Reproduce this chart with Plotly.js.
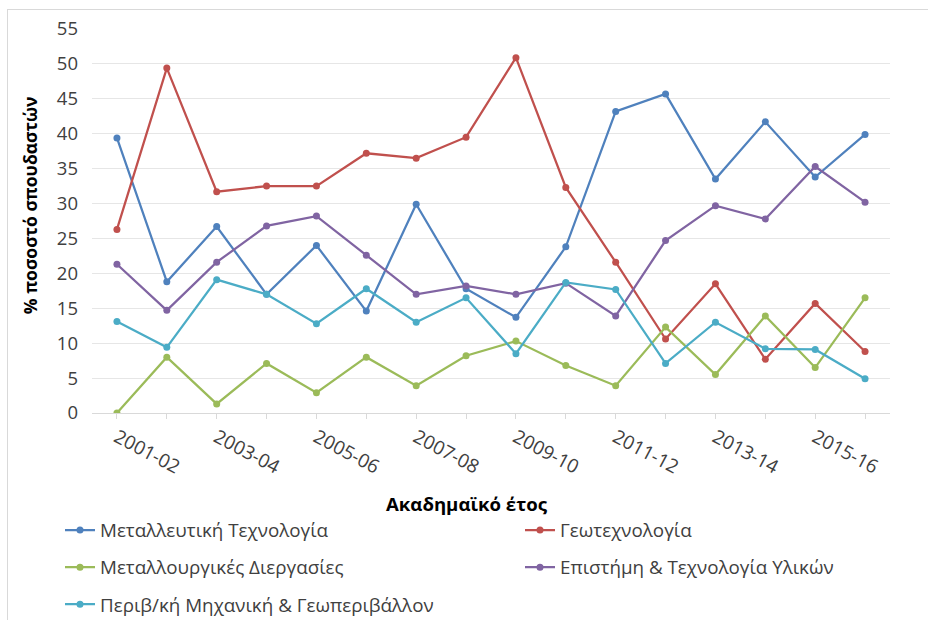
<!DOCTYPE html>
<html><head><meta charset="utf-8">
<script src="https://cdn.plot.ly/plotly-3.0.1.min.js"></script>
<style>
html,body{margin:0;padding:0;background:#fff;}
#frame{position:absolute;left:7px;top:9px;width:940px;height:640px;border-left:1px solid #d9d9d9;border-top:1px solid #d9d9d9;}
#chart{position:absolute;left:0;top:0;width:928px;height:620px;}
</style></head>
<body>
<div id="frame"></div>
<div id="chart"></div>
<script>
const years = ["2001-02","2002-03","2003-04","2004-05","2005-06","2006-07","2007-08","2008-09","2009-10","2010-11","2011-12","2012-13","2013-14","2014-15","2015-16","2016-17"];
const mining    = [39.4,18.8,26.7,17.0,24.0,14.6,29.9,17.8,13.7,23.8,43.2,45.7,33.5,41.7,33.8,39.9];
const geotech   = [26.3,49.4,31.7,32.5,32.5,37.2,36.5,39.5,50.9,32.3,21.6,10.6,18.5,7.7,15.7,8.8];
const metallurgy= [0.0,8.0,1.3,7.1,2.9,8.0,3.9,8.2,10.3,6.8,3.9,12.3,5.5,13.9,6.5,16.5];
const materials = [21.3,14.7,21.6,26.8,28.2,22.6,17.0,18.2,17.0,18.6,13.9,24.7,29.7,27.8,35.3,30.2];
const environ   = [13.1,9.4,19.1,17.0,12.8,17.8,13.0,16.5,8.5,18.7,17.7,7.1,13.0,9.2,9.1,4.9];
const names = ["Μεταλλευτική Τεχνολογία","Γεωτεχνολογία","Μεταλλουργικές Διεργασίες","Επιστήμη & Τεχνολογία Υλικών","Περιβ/κή Μηχανική & Γεωπεριβάλλον"];
const yTicks = [0,5,10,15,20,25,30,35,40,45,50,55];

const colors = ["#4F81BD","#C0504D","#9BBB59","#8064A2","#4BACC6"];
const series = [mining, geotech, metallurgy, materials, environ];
const legendIds = ["legend","legend2","legend3","legend4","legend5"];
const FONT = "'Open Sans', 'Liberation Sans', sans-serif";

const traces = series.map((vals,i)=>({
  type:"scatter", mode:"lines+markers", x:years, y:vals, name:names[i],
  line:{color:colors[i], width:2.25},
  marker:{color:colors[i], size:7, symbol:"circle"},
  legend: legendIds[i]
}));

const legendBase = {orientation:"h", xanchor:"left", yanchor:"middle", bgcolor:"rgba(0,0,0,0)",
  font:{family:FONT, size:18.8, color:"#404040"}, itemwidth:30};

// plot area pixel geometry: left 92, right 890, top 29, bottom 412.7
const pW = 798, pH = 383.7;
function lx(px){ return (px-92)/pW; }
function ly(px){ return (412.7-px)/pH; }
const col1 = lx(60), col2 = lx(520);

const layout = {
  width:928, height:620,
  margin:{l:92, r:38, t:29, b:207.3, autoexpand:false},
  paper_bgcolor:"rgba(0,0,0,0)", plot_bgcolor:"rgba(0,0,0,0)",
  showlegend:true,
  xaxis:{type:"category", range:[-0.5,15.5], tickmode:"array", tickvals:years,
    ticktext:years.map((y,i)=> i%2===0 ? y : ""),
    tickangle:28, ticks:"outside", ticklen:5, tickcolor:"#d9d9d9",
    showgrid:false, showline:false, zeroline:false, automargin:false,
    tickfont:{family:FONT, size:19, color:"#404040"}, fixedrange:true},
  yaxis:{range:[0,55], tickmode:"array", tickvals:yTicks, ticks:"", showgrid:true,
    gridcolor:"#e6e6e6", gridwidth:1, zeroline:true, zerolinecolor:"#d9d9d9", zerolinewidth:1,
    showline:false, automargin:false, tickfont:{family:FONT, size:18.5, color:"#404040"}, ticklabelstandoff:13, fixedrange:true},
  legend:  Object.assign({}, legendBase, {x:col1, y:ly(530)}),
  legend2: Object.assign({}, legendBase, {x:col2, y:ly(530)}),
  legend3: Object.assign({}, legendBase, {x:col1, y:ly(567)}),
  legend4: Object.assign({}, legendBase, {x:col2, y:ly(567)}),
  legend5: Object.assign({}, legendBase, {x:col1, y:ly(604)}),
  annotations:[
    {text:"<b>Ακαδημαϊκό έτος</b>", xref:"paper", yref:"paper", x:lx(467), y:ly(503),
     xanchor:"center", yanchor:"middle", showarrow:false, font:{family:FONT, size:18.6, color:"#000"}},
    {text:"<b>% ποσοστό σπουδαστών</b>", xref:"paper", yref:"paper", x:lx(30), y:ly(205),
     xanchor:"center", yanchor:"middle", textangle:-90, showarrow:false, font:{family:FONT, size:17.5, color:"#000"}}
  ]
};

Plotly.newPlot("chart", traces, layout, {displayModeBar:false, staticPlot:true});
</script>
</body></html>
